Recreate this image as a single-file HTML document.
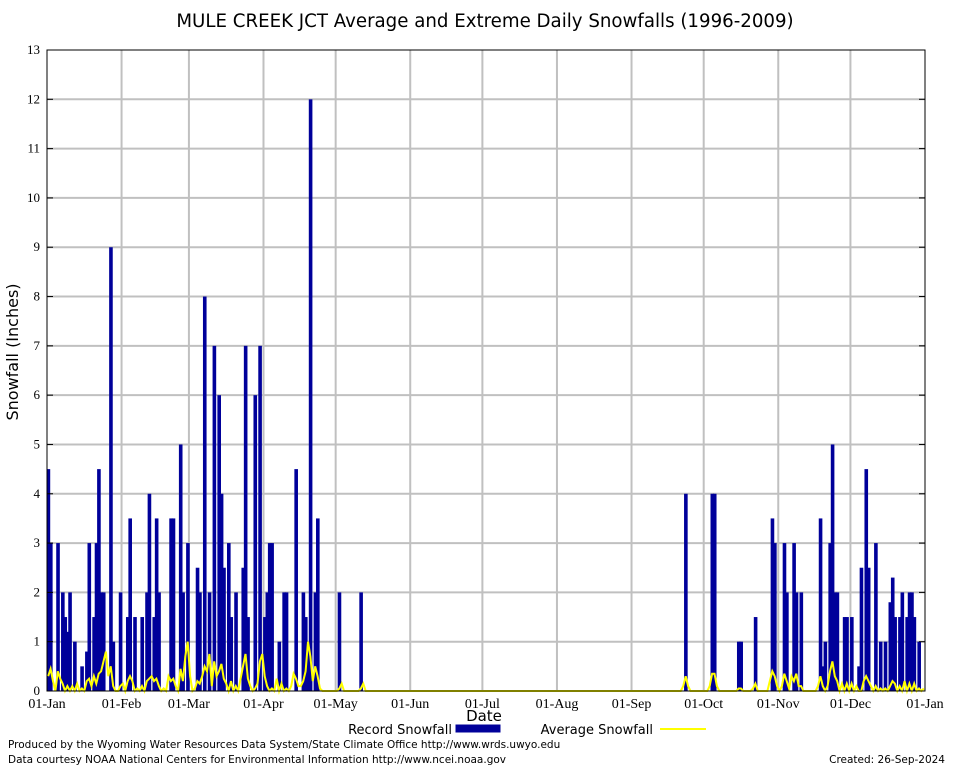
<!DOCTYPE html>
<html><head><meta charset="utf-8">
<style>
body{margin:0;background:#fff;width:954px;height:768px;overflow:hidden}
svg{display:block}
.s{font-family:"DejaVu Sans","Liberation Sans",sans-serif}
.r{font-family:"Liberation Serif",serif}
</style></head>
<body>
<svg id="chart" width="954" height="768" xmlns="http://www.w3.org/2000/svg">
<rect width="954" height="768" fill="#fff"/>
<text x="485" y="27" text-anchor="middle" class="s" font-size="18.2">MULE CREEK JCT Average and Extreme Daily Snowfalls (1996-2009)</text>
<text transform="translate(18,352) rotate(-90)" text-anchor="middle" class="s" font-size="16">Snowfall (Inches)</text>
<text x="484" y="721" text-anchor="middle" class="s" font-size="15">Date</text>
<g id="grid"></g><g id="bars"></g><g id="avg"></g><g id="axes"></g>
<g>
<text x="452" y="734" text-anchor="end" class="s" font-size="13">Record Snowfall</text>
<rect x="456" y="725" width="44" height="7" fill="#00009a" stroke="#00009a"/>
<text x="653" y="734" text-anchor="end" class="s" font-size="13">Average Snowfall</text>
<line x1="660" y1="729" x2="706" y2="729" stroke="#ffff00" stroke-width="2"/>
</g>
<text x="8" y="748" class="s" font-size="10.5">Produced by the Wyoming Water Resources Data System/State Climate Office http://www.wrds.uwyo.edu</text>
<text x="8" y="763" class="s" font-size="10.5">Data courtesy NOAA National Centers for Environmental Information http://www.ncei.noaa.gov</text>
<text x="945" y="763" text-anchor="end" class="s" font-size="10.5">Created:  26-Sep-2024</text>
</svg>
<script>
const monthLabels=["01-Jan","01-Feb","01-Mar","01-Apr","01-May","01-Jun","01-Jul","01-Aug","01-Sep","01-Oct","01-Nov","01-Dec","01-Jan"];
const monthStartDays=[0,31,59,90,120,151,181,212,243,273,304,334,365];
const yTicks=[0,1,2,3,4,5,6,7,8,9,10,11,12,13];
const recordDays=[0,1,4,6,7,8,9,11,14,16,17,19,20,21,22,23,26,27,30,33,34,36,39,41,42,44,45,46,51,52,55,56,58,62,63,65,67,69,71,72,73,75,76,78,81,82,83,86,88,90,91,92,93,96,98,99,103,106,107,108,109,111,112,121,130,
265,276,277,287,288,294,301,302,306,307,310,311,313,321,322,323,325,326,327,328,331,332,334,337,338,340,341,344,346,348,350,351,352,354,355,357,358,359,360,362];
const recordVals=[4.5,3,3,2,1.5,1.2,2,1,0.5,0.8,3,1.5,3,4.5,2,2,9,1,2,1.5,3.5,1.5,1.5,2,4,1.5,3.5,2,3.5,3.5,5,2,3,2.5,2,8,2,7,6,4,2.5,3,1.5,2,2.5,7,1.5,6,7,1.5,2,3,3,1,2,2,4.5,2,1.5,1,12,2,3.5,2,2,
4,4,4,1,1,1.5,3.5,3,3,2,3,2,2,3.5,0.5,1,3,5,2,2,1.5,1.5,1.5,0.5,2.5,4.5,2.5,3,1,1,1.8,2.3,1.5,1.5,2,1.5,2,2,1.5,1];
const avgDays=[0,1,2,3,4,5,6,8,10,12,14,16,17,18,19,20,21,22,23,24,25,26,27,28,30,31,33,34,35,37,39,41,42,43,44,45,46,48,50,51,52,53,55,56,57,58,59,61,62,63,64,65,66,67,68,69,70,71,72,73,74,76,78,80,81,82,83,84,86,87,88,89,90,91,93,95,97,99,101,102,103,104,105,106,107,108,109,110,111,112,113,115,121,122,130,131,
262,264,265,266,268,274,275,276,277,278,285,287,288,290,292,293,294,296,299,300,301,302,303,305,306,307,308,309,310,311,312,313,314,316,318,320,321,322,324,325,326,327,328,330,332,334,336,338,339,340,341,342,343,344,346,348,350,351,352,354,356,358,360,362,364];
const avgVals=[0.3,0.45,0.2,0,0.4,0.25,0.15,0.1,0.1,0.15,0.05,0.2,0.25,0.1,0.3,0.15,0.35,0.4,0.6,0.8,0.3,0.5,0.1,0,0.1,0.15,0.2,0.3,0.2,0.05,0.1,0.2,0.25,0.3,0.2,0.25,0.1,0.05,0.3,0.2,0.25,0.1,0.45,0.2,0.7,1.0,0.3,0.05,0.2,0.15,0.3,0.5,0.4,0.75,0.1,0.6,0.3,0.4,0.55,0.25,0.15,0.2,0.1,0.25,0.5,0.75,0.25,0.1,0.05,0.15,0.6,0.75,0.3,0.1,0.05,0.25,0.15,0.05,0.1,0.35,0.25,0.1,0.1,0.2,0.4,1.0,0.7,0.2,0.5,0.3,0.05,0,0.05,0.15,0.05,0.15,
0,0.1,0.3,0.1,0,0,0.1,0.35,0.35,0.1,0,0.05,0.05,0,0,0.05,0.15,0,0,0.2,0.4,0.3,0.1,0.1,0.35,0.2,0.05,0.3,0.2,0.35,0.1,0.1,0,0,0,0.1,0.3,0.1,0.1,0.4,0.6,0.3,0.2,0.15,0.15,0.15,0.1,0,0.2,0.3,0.2,0.1,0,0.1,0.05,0.05,0.1,0.2,0.15,0.1,0.2,0.15,0.15,0.05,0.05];

const NS="http://www.w3.org/2000/svg";
const L=47,R=925,T=50,B=691,MAXY=13,NDAYS=365;
const xs=d=>L+(R-L)*d/NDAYS;
const ys=v=>B-(B-T)*v/MAXY;
function mk(tag,attrs,parent){const e=document.createElementNS(NS,tag);for(const k in attrs)e.setAttribute(k,attrs[k]);parent.appendChild(e);return e;}
const grid=document.getElementById('grid'),bars=document.getElementById('bars'),avg=document.getElementById('avg'),axes=document.getElementById('axes');
yTicks.forEach(v=>{
  if(v>0&&v<MAXY){const g=mk('line',{x1:L,x2:R,y1:ys(v),y2:ys(v),stroke:'#c0c0c0','stroke-width':2},grid);
  
  }
  const t=mk('text',{x:L-7,y:ys(v)+4,'text-anchor':'end','font-size':13,class:'r'},axes);t.textContent=v;
  
  
  mk('line',{x1:L,x2:L+6,y1:ys(v),y2:ys(v),stroke:'#000'},axes);
  mk('line',{x1:R,x2:R-6,y1:ys(v),y2:ys(v),stroke:'#000'},axes);
});
monthStartDays.forEach((d,i)=>{
  const x=xs(d);
  if(i>0&&i<12){const g=mk('line',{x1:x,x2:x,y1:T,y2:B,stroke:'#c0c0c0','stroke-width':2},grid);
  
  }
  const t=mk('text',{x:x,y:B+17,'text-anchor':'middle','font-size':14,class:'r'},axes);t.textContent=monthLabels[i];
  
  
});
const dw=(R-L)/NDAYS;
recordDays.forEach((d,i)=>{
  const b=mk('rect',{x:xs(d)-0.4,y:ys(recordVals[i]),width:dw*1.5,height:B-ys(recordVals[i]),fill:'#00009a'},bars);
  
  
});
let pts=[];
for(let d=0;d<NDAYS;d++){let v=0;const k=avgDays.indexOf(d);if(k>=0)v=avgVals[k];pts.push(xs(d+0.5).toFixed(1)+','+ys(v).toFixed(1));}
const line=mk('polyline',{points:pts.join(' '),fill:'none',stroke:'#ffff00','stroke-width':2},avg);


const fr=mk('rect',{x:L,y:T,width:R-L,height:B-T,fill:'none',stroke:'#000','stroke-width':1},axes);


</script>
</body></html>
